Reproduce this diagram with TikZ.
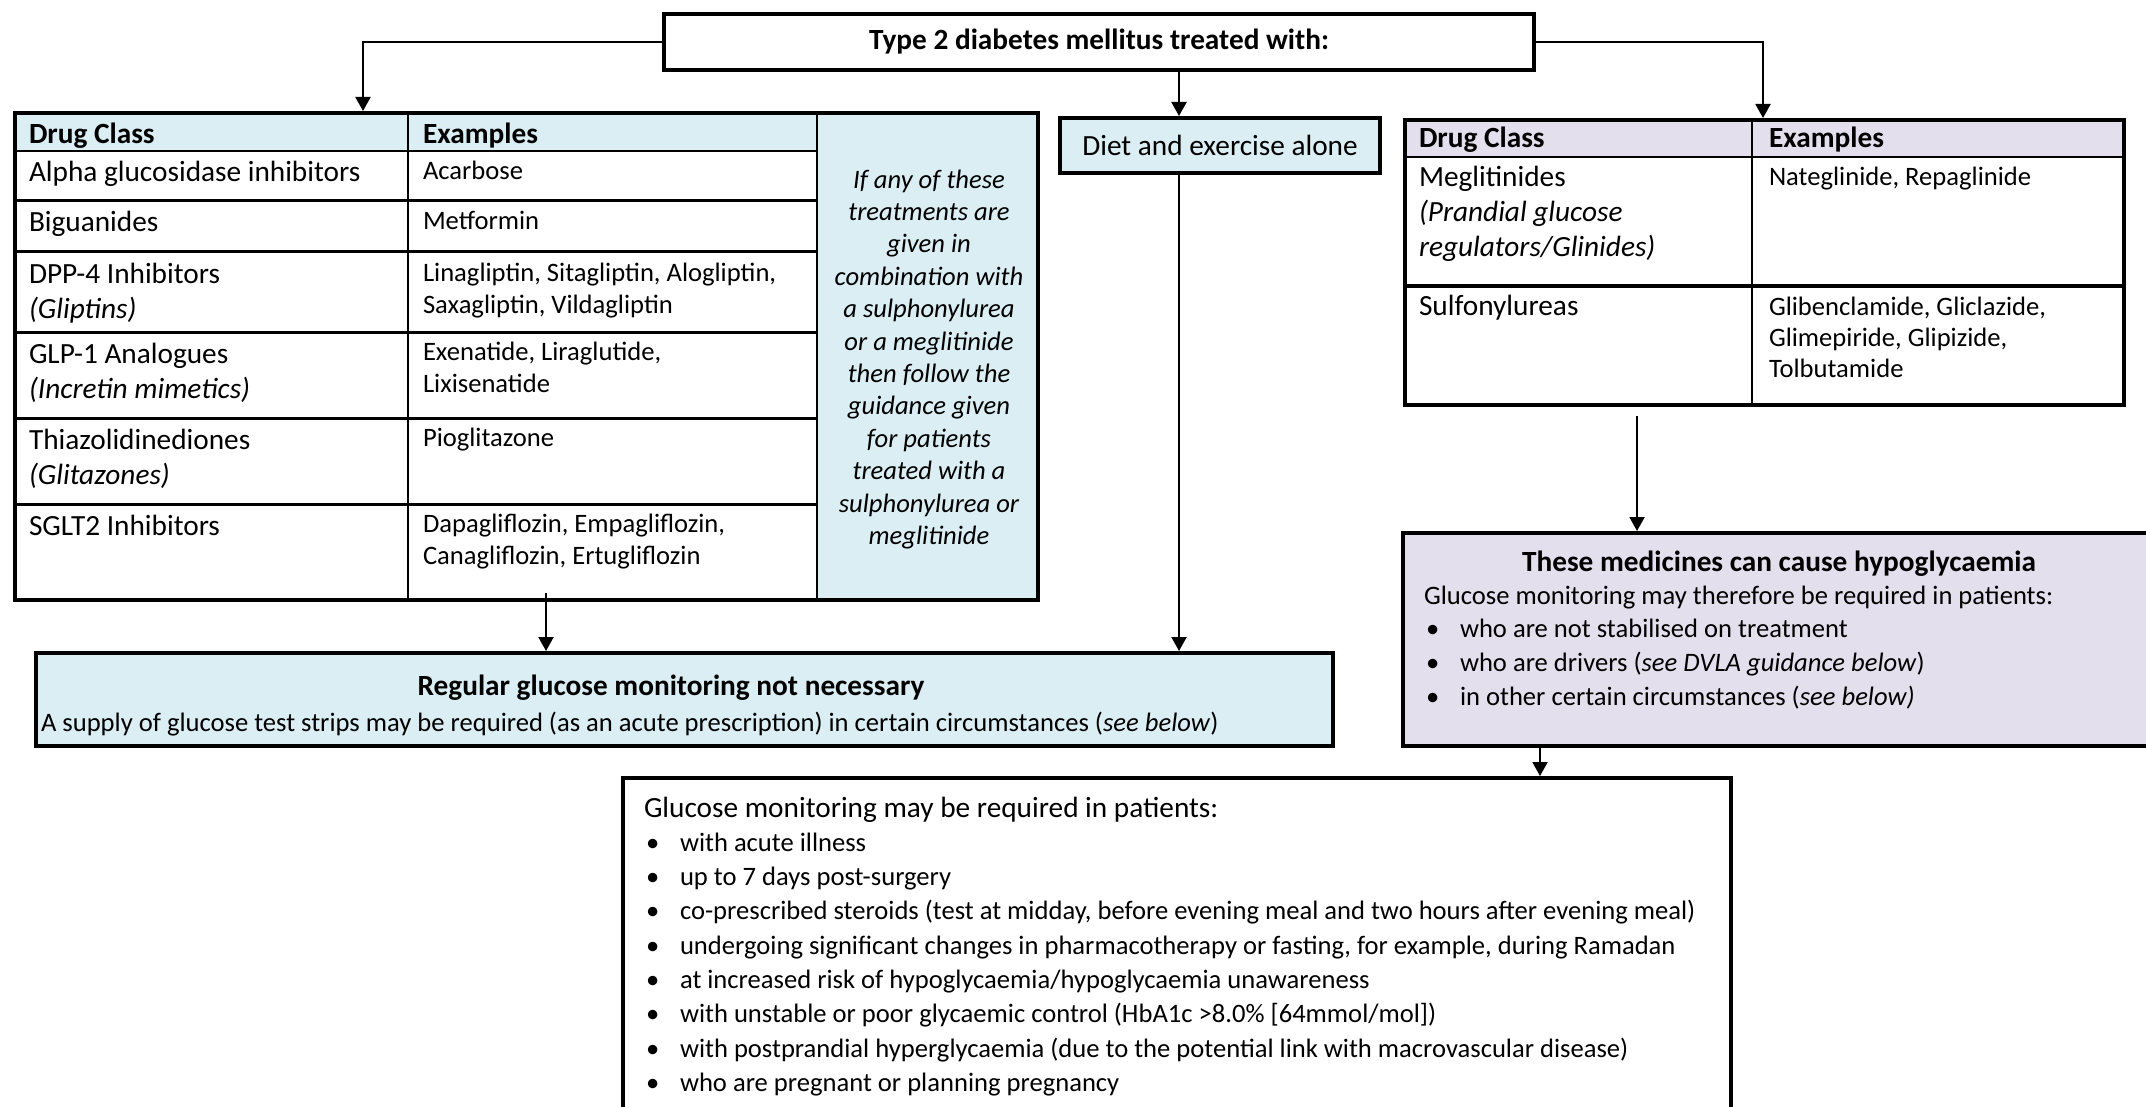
\documentclass[tikz,border=0pt]{standalone}
\usepackage{fontspec}
\setmainfont{Carlito}
\usetikzlibrary{positioning,calc,arrows.meta}
\definecolor{aquafill}{HTML}{DAEEF3}
\definecolor{lilacfill}{HTML}{E4DFEC}
\newcommand{\sizeA}{\fontsize{29.3}{35}\selectfont}
\newcommand{\sizeB}{\fontsize{26.6}{32.5}\selectfont}
\newcommand{\blt}{\hspace*{2pt}\makebox[34pt][l]{\textbullet}}

\begin{document}
\begin{tikzpicture}[x=1pt, y=-1pt, on grid, line width=2pt,
    >={Triangle[length=14pt,width=15pt]}, font=\sizeA,
    frame/.style={draw, line width=4pt, inner sep=0pt},
    hdr/.style={anchor=base west, inner sep=0pt, font=\sizeA\bfseries},
    cellA/.style={anchor=base west, inner sep=0pt, align=left, font=\sizeA},
    cellB/.style={anchor=base west, inner sep=0pt, align=left, font=\sizeB},
    rowline/.style={line width=3pt}]
  \useasboundingbox (0,0) rectangle (2146,1107);%
  \node[frame, font=\sizeA\bfseries, minimum width=870pt, minimum height=56pt] (top) at (1099,42) {Type 2 diabetes mellitus treated with:};%
  \node[frame, minimum width=1023pt, minimum height=487pt] (lefttab) [below left=314.5pt and 572.5pt of top] {};%
  \node[frame, fill=aquafill, minimum width=320pt, minimum height=55pt] (diet) [below right=103.5pt and 121pt of top] {Diet and exercise alone};%
  \node[frame, minimum width=719pt, minimum height=285pt] (righttab) [below right=220.5pt and 665.5pt of top] {};%
  \node[frame, fill=aquafill, minimum width=1297pt, minimum height=93pt] (regular) [below right=343pt and 158pt of lefttab] {};%
  \node[frame, fill=lilacfill, minimum width=752pt, minimum height=213pt] (hypo) [below right=377pt and 14.5pt of righttab] {};%
  \node[frame, minimum width=1108pt, minimum height=360pt] (bottom) [below left=318.5pt and 602pt of hypo] {};%

  \fill[aquafill] (17,115) rectangle (817,151);%
  \fill[aquafill] (817,115) rectangle (1036,598);%
  \draw (408,113) -- (408,600) (817,113) -- (817,600) (15,151) -- (817,151);%
  \draw[rowline] (15,201) -- (817,201) (15,252) -- (817,252) (15,332) -- (817,332)
    (15,418) -- (817,418) (15,504) -- (817,504);%
  \node[hdr] at (28,144) {Drug Class};%
  \node[hdr] at (422,144) {Examples};%
  \node[cellA] at (28,182) {Alpha glucosidase inhibitors};%
  \node[cellA] at (28,232) {Biguanides};%
  \node[cellA] at (28,318) {DPP-4 Inhibitors\\\textit{(Gliptins)}};%
  \node[cellA] at (28,398) {GLP-1 Analogues\\\textit{(Incretin mimetics)}};%
  \node[cellA] at (28,484) {Thiazolidinediones\\\textit{(Glitazones)}};%
  \node[cellA] at (28,535) {SGLT2 Inhibitors};%
  \node[cellB] at (422,180) {Acarbose};%
  \node[cellB] at (422,230) {Metformin};%
  \node[cellB] at (422,313.5) {Linagliptin, Sitagliptin, Alogliptin,\\Saxagliptin, Vildagliptin};%
  \node[cellB] at (422,392.5) {Exenatide, Liraglutide,\\Lixisenatide};%
  \node[cellB] at (422,446) {Pioglitazone};%
  \node[cellB] at (422,564.5) {Dapagliflozin, Empagliflozin,\\Canagliflozin, Ertugliflozin};%
  \node[anchor=base, inner sep=0pt, align=center, font=\fontsize{26.6}{32.4}\selectfont\itshape] (note) at (929,544.4)
    {If any of these\\treatments are\\given in\\combination with\\a sulphonylurea\\or a meglitinide\\then follow the\\guidance given\\for patients\\treated with a\\sulphonylurea or\\meglitinide};%

  \fill[lilacfill] (1407,122) rectangle (2122,157);%
  \draw (1752,120) -- (1752,405) (1405,157) -- (2124,157);%
  \draw[rowline] (1405,286) -- (2124,286);%
  \node[hdr] at (1418,148) {Drug Class};%
  \node[hdr] at (1768,148) {Examples};%
  \node[cellA] at (1418,257) {Meglitinides\\\textit{(Prandial glucose}\\\textit{regulators/Glinides)}};%
  \node[cellB] at (1768,186) {Nateglinide, Repaglinide};%
  \node[cellA] at (1418,316) {Sulfonylureas};%
  \node[cellB, font=\fontsize{26.6}{31}\selectfont] at (1768,377) {Glibenclamide, Gliclazide,\\Glimepiride, Glipizide,\\Tolbutamide};%

  \node[anchor=base, inner sep=0pt, font=\sizeA\bfseries] at (671,695) {Regular glucose monitoring not necessary};%
  \node[cellB] at (40,731) {A supply of glucose test strips may be required (as an acute prescription) in certain circumstances (\textit{see below})};%
  \node[anchor=base, inner sep=0pt, font=\sizeA\bfseries] at (1779,571) {These medicines can cause hypoglycaemia};%
  \node[cellB, font=\fontsize{26.6}{33.7}\selectfont] at (1423,705.1) {Glucose monitoring may therefore be required in patients:\\
    \blt who are not stabilised on treatment\\
    \blt who are drivers (\textit{see DVLA guidance below})\\
    \blt in other certain circumstances (\textit{see below)}};%
  \node[cellB, font=\fontsize{26.6}{34.3}\selectfont] at (643,1091.4) {{\fontsize{29.3}{34.3}\selectfont Glucose monitoring may be required in patients:}\\
    \blt with acute illness\\
    \blt up to 7 days post-surgery\\
    \blt co-prescribed steroids (test at midday, before evening meal and two hours after evening meal)\\
    \blt undergoing significant changes in pharmacotherapy or fasting, for example, during Ramadan\\
    \blt at increased risk of hypoglycaemia/hypoglycaemia unawareness\\
    \blt with unstable or poor glycaemic control (HbA1c >8.0\% [64mmol/mol])\\
    \blt with postprandial hyperglycaemia (due to the potential link with macrovascular disease)\\
    \blt who are pregnant or planning pregnancy};%

  \draw[->] (top.west) -| ($(lefttab.north west)+(350,0)$);%
  \draw[->] ($(top.south)+(80,0)$) coordinate (c1) -- (c1 |- diet.north);%
  \draw[->] (top.east) -| ($(righttab.north west)+(360,0)$);%
  \draw[->] ($(lefttab.south west)+(533,-9)$) -- ($(regular.north west)+(512,0)$);%
  \draw[->] (c1 |- diet.south) -- (c1 |- regular.north);%
  \draw[->] ($(righttab.south west)+(234,9)$) coordinate (c2) -- (c2 |- hypo.north);%
  \draw[->] ($(hypo.south west)+(139,0)$) coordinate (c3) -- (c3 |- bottom.north);%
\end{tikzpicture}
\end{document}
